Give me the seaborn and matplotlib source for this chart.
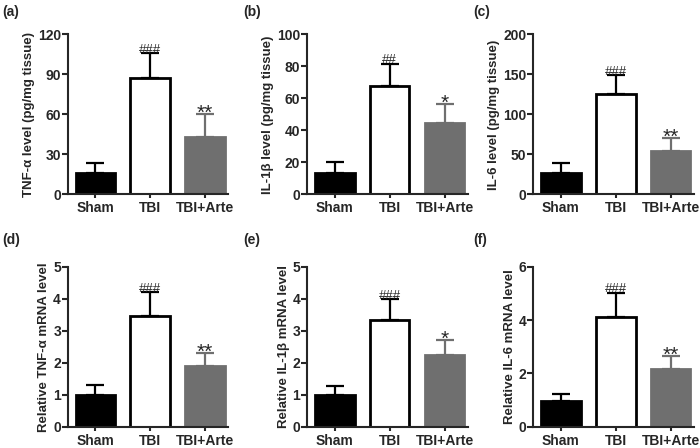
import matplotlib
matplotlib.use("Agg")
import matplotlib.pyplot as plt
import seaborn as sns
import pandas as pd

# groups shared by every panel
groups = ["Sham", "TBI", "TBI+Arte"]

# protein levels (top row)
tnf_mean = [16, 87, 43]
tnf_err = [7.5, 19, 17]
il1b_mean = [13.7, 67.5, 44.8]
il1b_err = [6.3, 14, 12]
il6_mean = [26.7, 125, 54.5]
il6_err = [12.5, 24, 15.5]

# relative mRNA levels (bottom row)
tnf_mrna_mean = [1.0, 3.45, 1.9]
tnf_mrna_err = [0.3, 0.75, 0.4]
il1b_mrna_mean = [1.0, 3.35, 2.23]
il1b_mrna_err = [0.26, 0.63, 0.48]
il6_mrna_mean = [0.98, 4.1, 2.15]
il6_mrna_err = [0.25, 0.92, 0.5]

ylabels = ["TNF-α level (pg/mg tissue)", "IL-1β level (pg/mg tissue)", "IL-6 level (pg/mg tissue)",
           "Relative TNF-α mRNA level", "Relative IL-1β mRNA level", "Relative IL-6 mRNA level"]
panel_tags = ["(a)", "(b)", "(c)", "(d)", "(e)", "(f)"]
yticks = [[0, 30, 60, 90, 120], [0, 20, 40, 60, 80, 100], [0, 50, 100, 150, 200],
          [0, 1, 2, 3, 4, 5], [0, 1, 2, 3, 4, 5], [0, 2, 4, 6]]
tbi_marks = ["###", "##", "###", "###", "###", "###"]
arte_marks = ["**", "*", "**", "**", "*", "**"]

means = [tnf_mean, il1b_mean, il6_mean, tnf_mrna_mean, il1b_mrna_mean, il6_mrna_mean]
errs = [tnf_err, il1b_err, il6_err, tnf_mrna_err, il1b_mrna_err, il6_mrna_err]

sns.set_style("ticks")
plt.rcParams["font.family"] = ["Liberation Sans", "DejaVu Sans"]
plt.rcParams["font.weight"] = "bold"

fills = {"Sham": "#000000", "TBI": "#ffffff", "TBI+Arte": "#6f6f6f"}
edges = ["#000000", "#000000", "#6f6f6f"]

fig = plt.figure(figsize=(7, 4.48), dpi=100)
lefts = [0.097, 0.439, 0.762]
bottoms = [0.566, 0.0475]
w, h = 0.229, 0.357

for i in range(6):
    row, col = divmod(i, 3)
    ax = fig.add_axes([lefts[col], bottoms[row], w, h])
    df = pd.DataFrame({"group": groups, "value": means[i]})
    sns.barplot(data=df, x="group", y="value", hue="group", palette=fills,
                legend=False, width=0.72, ax=ax, errorbar=None)
    for p, ec in zip(ax.patches, edges):
        p.set_edgecolor(ec)
        p.set_linewidth(2.0)
    for j in range(3):
        ax.errorbar(j, means[i][j], yerr=[[0], [errs[i][j]]], fmt="none",
                    ecolor=edges[j], elinewidth=1.6, capsize=6.5, capthick=1.6, zorder=1)
    top = yticks[i][-1]
    ax.text(1, means[i][1] + errs[i][1] - top * 0.015, tbi_marks[i], ha="center", va="bottom",
            fontsize=9.5, fontweight="normal")
    ax.text(2, means[i][2] + errs[i][2] - top * 0.055, arte_marks[i], ha="center", va="bottom",
            fontsize=15, fontweight="normal")
    ax.set_ylim(0, top)
    ax.set_yticks(yticks[i])
    ax.set_xlim(-0.5, 2.42)
    ax.set_xlabel("")
    ax.set_ylabel(ylabels[i], fontsize=9.5, fontweight="bold", labelpad=2)
    ax.tick_params(axis="y", length=4, width=1.5, labelsize=10, pad=1)
    ax.tick_params(axis="x", length=3, width=1.5, labelsize=10, pad=2)
    for lab in ax.get_xticklabels() + ax.get_yticklabels():
        lab.set_fontweight("bold")
    sns.despine(ax=ax)
    for s in ["left", "bottom"]:
        ax.spines[s].set_linewidth(1.5)
    tag_x = [0.003, 0.347, 0.676][col]
    tag_y = [0.973, 0.464][row]
    fig.text(tag_x, tag_y, panel_tags[i], fontsize=10, fontweight="bold", va="center")

fig.savefig("out.png", dpi=100)
